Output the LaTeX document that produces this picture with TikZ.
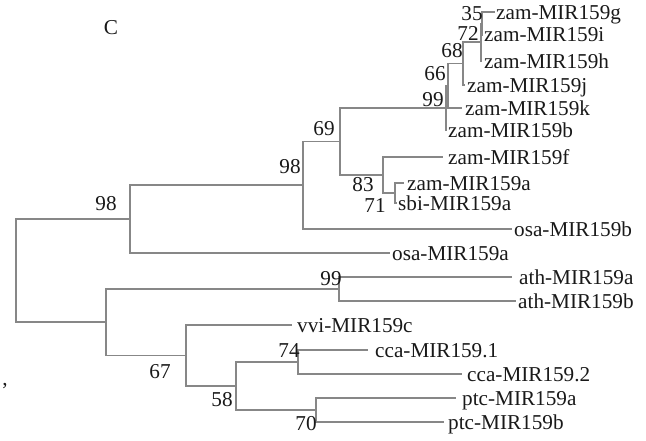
\documentclass[tikz,border=0pt]{standalone}
\usepackage{fontspec}
\setmainfont{Liberation Serif}
\definecolor{linegray}{RGB}{135,135,135}
\definecolor{txt}{RGB}{25,25,25}
\begin{document}
\begin{tikzpicture}[x=1pt,y=-1pt,
  br/.style={draw=linegray, line width=1.6pt},
  leaf/.style={anchor=base west, inner sep=0pt, text=txt, font=\fontsize{21.2}{24}\selectfont},
  bs/.style={anchor=center, inner sep=0pt, text=txt, font=\fontsize{21.2}{24}\selectfont}]
\useasboundingbox (0,0) rectangle (646,440);
% internal nodes
\coordinate (R) at (16,270.5);
\coordinate (A) at (130,219);
\coordinate (B98) at (303,185);
\coordinate (N69) at (340,141.5);
\coordinate (N99) at (446,108);
\coordinate (N66) at (448,86);
\coordinate (N68) at (463,63.5);
\coordinate (N72) at (481,42);
\coordinate (N35) at (482,23.5);
\coordinate (N83) at (383,175);
\coordinate (N71) at (395,193);
\coordinate (B) at (106,322);
\coordinate (NAth) at (339,289);
\coordinate (N67) at (186,355.5);
\coordinate (N58) at (236,386);
\coordinate (N74) at (298,362);
\coordinate (N70) at (316,410);
% tips
\coordinate (tg) at (495,12);
\coordinate (ti) at (483,35);
\coordinate (th) at (482,61);
\coordinate (tj) at (465,85);
\coordinate (tk) at (462,108);
\coordinate (tb) at (447,130);
\coordinate (tf) at (443,157);
\coordinate (tza) at (404,183);
\coordinate (tsbi) at (397,203);
\coordinate (tosaB) at (512,229);
\coordinate (tosaA) at (390,253);
\coordinate (tathA) at (512,277);
\coordinate (tathB) at (516,301);
\coordinate (tvvi) at (292,325);
\coordinate (tcca1) at (368,350);
\coordinate (tcca2) at (462,374);
\coordinate (tptcA) at (456,398);
\coordinate (tptcB) at (444,422);
% branches
\draw[br] (R) |- (A); \draw[br] (R) |- (B);
\draw[br] (A) |- (B98); \draw[br] (A) |- (tosaA);
\draw[br] (B98) |- (N69); \draw[br] (B98) |- (tosaB);
\draw[br] (N69) |- (N99); \draw[br] (N69) |- (N83);
\draw[br] (N99) |- (N66); \draw[br] (N99) |- (tb);
\draw[br] (N66) |- (N68); \draw[br] (N66) |- (tk);
\draw[br] (N68) |- (N72); \draw[br] (N68) |- (tj);
\draw[br] (N72) |- (N35); \draw[br] (N72) |- (th);
\draw[br] (N35) |- (tg); \draw[br] (N35) |- (ti);
\draw[br] (N83) |- (tf); \draw[br] (N83) |- (N71);
\draw[br] (N71) |- (tza); \draw[br] (N71) |- (tsbi);
\draw[br] (B) |- (NAth); \draw[br] (B) |- (N67);
\draw[br] (NAth) |- (tathA); \draw[br] (NAth) |- (tathB);
\draw[br] (N67) |- (tvvi); \draw[br] (N67) |- (N58);
\draw[br] (N58) |- (N74); \draw[br] (N58) |- (N70);
\draw[br] (N74) |- (tcca1); \draw[br] (N74) |- (tcca2);
\draw[br] (N70) |- (tptcA); \draw[br] (N70) |- (tptcB);
% leaf labels
\node[leaf] (lg) at (496,19) {zam-MIR159g};
\node[leaf] (li) at (484,41) {zam-MIR159i};
\node[leaf] (lh) at (484,68) {zam-MIR159h};
\node[leaf] (lj) at (467,92) {zam-MIR159j};
\node[leaf] (lk) at (465,115) {zam-MIR159k};
\node[leaf] (lb) at (448,137) {zam-MIR159b};
\node[leaf] (lf) at (448,164) {zam-MIR159f};
\node[leaf] (lza) at (407,190) {zam-MIR159a};
\node[leaf] (lsbi) at (398,210) {sbi-MIR159a};
\node[leaf] (losaB) at (514,236) {osa-MIR159b};
\node[leaf] (losaA) at (392,260) {osa-MIR159a};
\node[leaf] (lathA) at (519,284) {ath-MIR159a};
\node[leaf] (lathB) at (518,308) {ath-MIR159b};
\node[leaf] (lvvi) at (297,332) {vvi-MIR159c};
\node[leaf] (lcca1) at (375,357) {cca-MIR159.1};
\node[leaf] (lcca2) at (467,381) {cca-MIR159.2};
\node[leaf] (lptcA) at (462,405) {ptc-MIR159a};
\node[leaf] (lptcB) at (448,429) {ptc-MIR159b};
% bootstrap values
\node[bs] (b35) at (472,14) {35};
\node[bs] (b72) at (468,33) {72};
\node[bs] (b68) at (452,51) {68};
\node[bs] (b66) at (435,74) {66};
\node[bs] (b99a) at (433,100) {99};
\node[bs] (b69) at (324,129) {69};
\node[bs] (b98a) at (290,167) {98};
\node[bs] (b98b) at (106,204) {98};
\node[bs] (b83) at (363,185) {83};
\node[bs] (b71) at (375,205) {71};
\node[bs] (b99b) at (331,279) {99};
\node[bs] (b74) at (289,351) {74};
\node[bs] (b67) at (160,372) {67};
\node[bs] (b58) at (222,400) {58};
\node[bs] (b70) at (306,424) {70};
\node[bs] (lC) at (111,28) {C};
\node[bs] (comma) at (5,386) {,};
\end{tikzpicture}
\end{document}
